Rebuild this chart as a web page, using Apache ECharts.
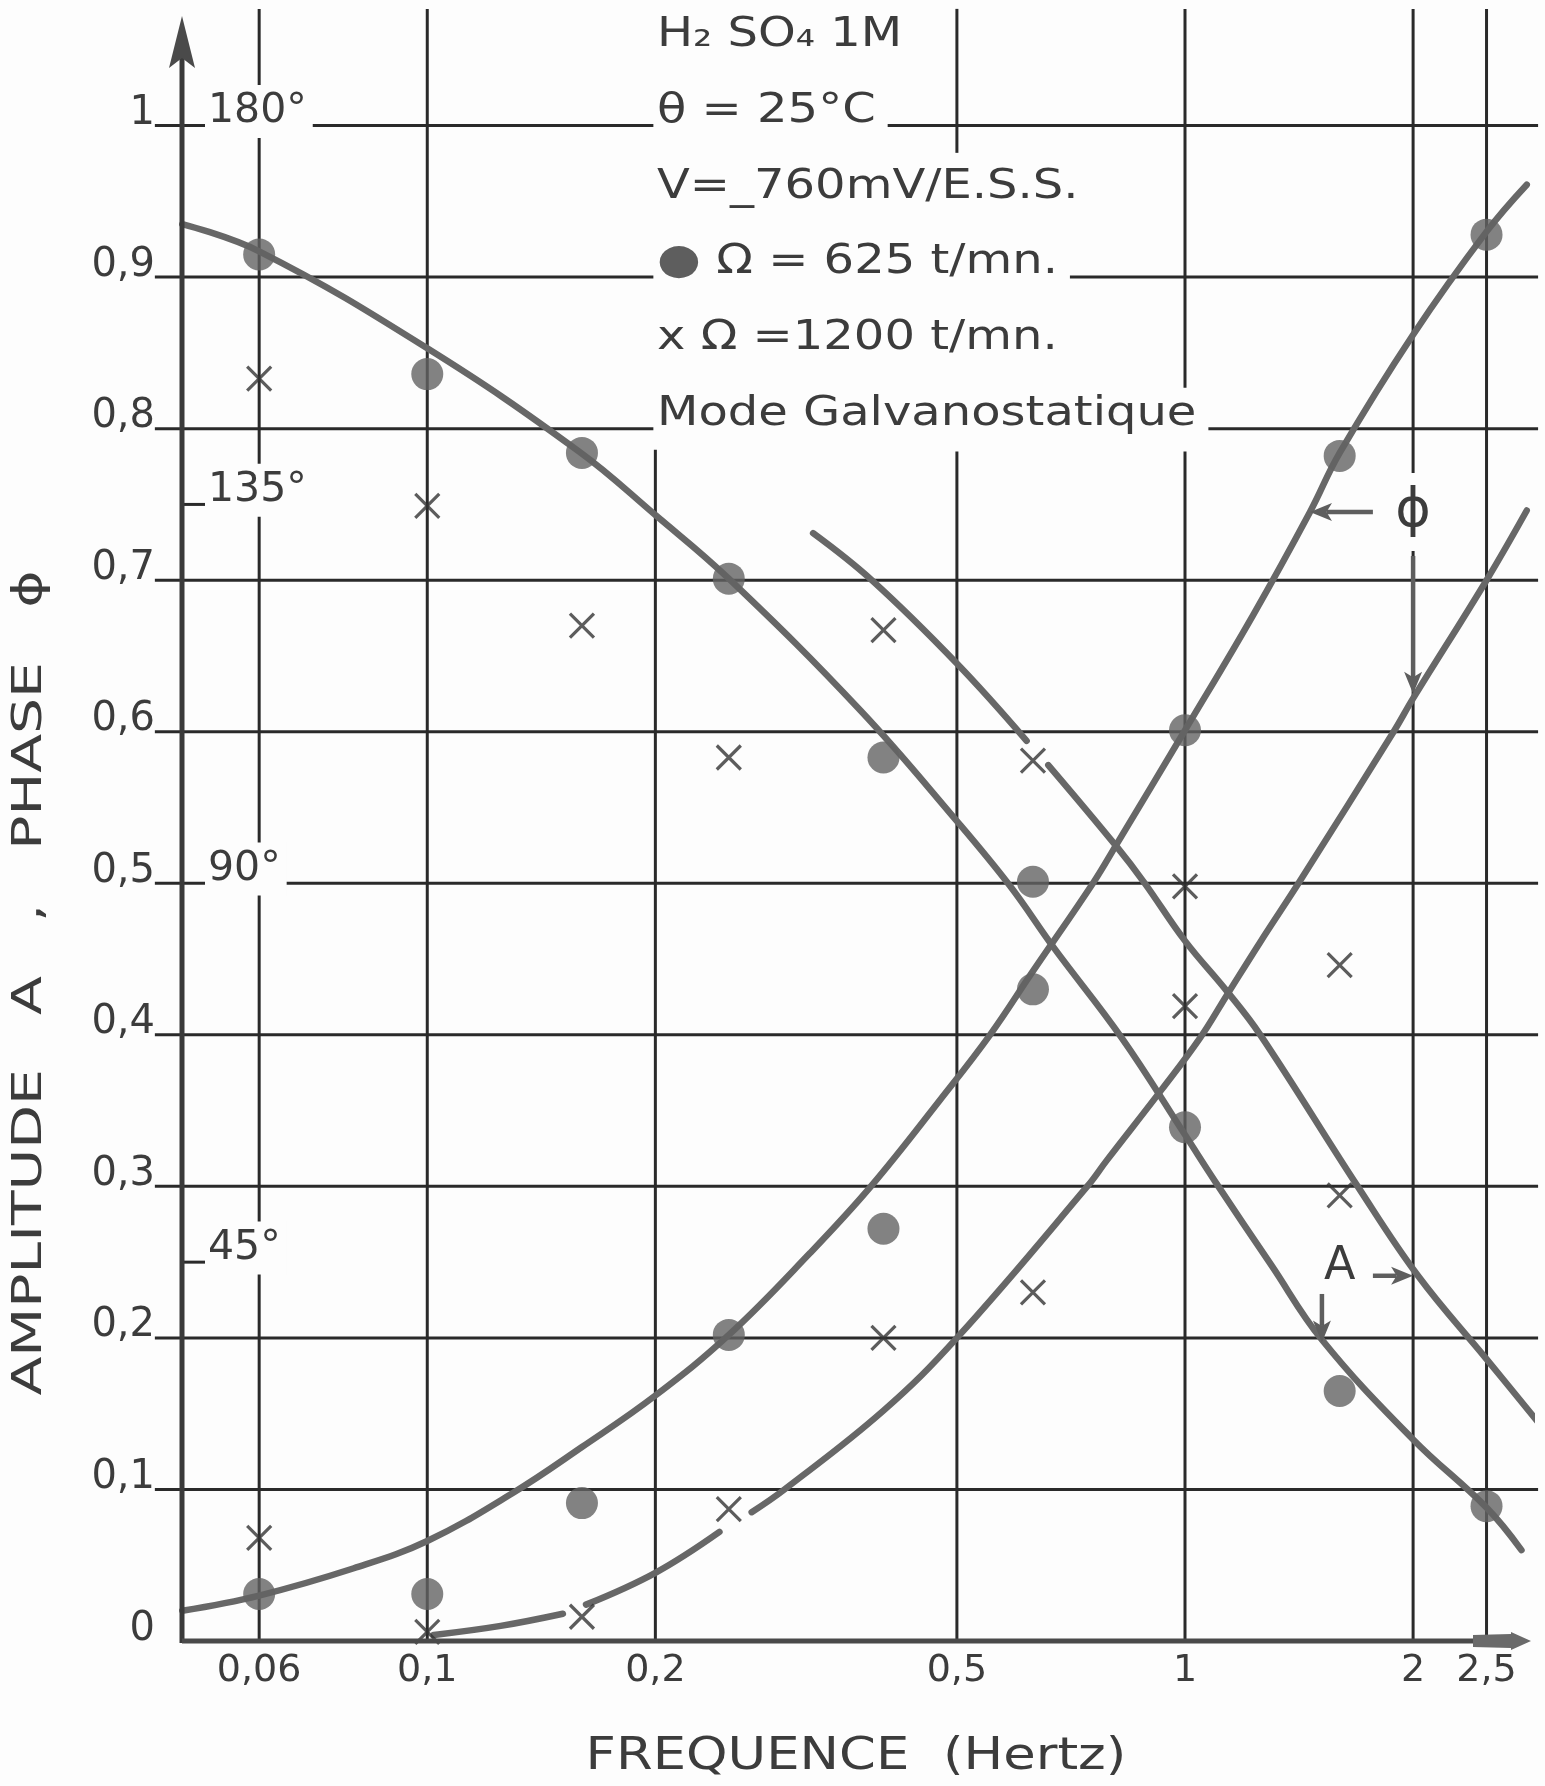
<!DOCTYPE html>
<html>
<head>
<meta charset="utf-8">
<script src="https://cdn.jsdelivr.net/npm/echarts@6/dist/echarts.min.js"></script>
<style>
html,body{margin:0;padding:0;background:#fdfdfd;}
#chart{width:1545px;height:1786px;}
</style>
</head>
<body>
<div id="chart"></div>
<script>
// ================= DATA =================
const freqs = [0.06, 0.1, 0.16, 0.25, 0.4, 0.63, 1, 1.6, 2.5];
// Omega = 625 t/mn (dots)
const amp625   = [0.915, 0.836, 0.784, 0.701, 0.583, 0.501, 0.339, 0.165, 0.089];
const phase625 = [0.031, 0.031, 0.091, 0.202, 0.272, 0.430, 0.601, 0.782, 0.928];
// Omega = 1200 t/mn (crosses) [frequency, value]
const amp1200   = [[0.06,0.833],[0.1,0.749],[0.16,0.670],[0.25,0.583],[0.4,0.667],[0.63,0.581],[1,0.498],[1.6,0.294]];
const phase1200 = [[0.06,0.068],[0.1,0.006],[0.16,0.016],[0.25,0.087],[0.4,0.200],[0.63,0.230],[1,0.419],[1.6,0.446]];

// hand-drawn fitted curves [frequency, value]
const curveAmp625 = [[0.0475,0.935],[0.06,0.917],[0.1,0.853],[0.1585,0.785],[0.2,0.743],[0.25,0.701],[0.373,0.614],[0.5,0.541],[0.588,0.498],[0.67,0.458],[0.825,0.398],[1,0.334],[1.1,0.302],[1.3,0.248],[1.515,0.199],[2,0.133],[2.5,0.088],[2.78,0.06]];
const curvePhase625 = [[0.0475,0.020],[0.06,0.030],[0.08,0.048],[0.1,0.066],[0.13,0.098],[0.16,0.128],[0.2,0.162],[0.25,0.202],[0.32,0.256],[0.385,0.300],[0.475,0.357],[0.553,0.400],[0.63,0.442],[0.756,0.500],[0.813,0.526],[1,0.601],[1.23,0.677],[1.462,0.745],[1.6,0.784],[2,0.862],[2.5,0.930],[2.825,0.961]];
const curveAmp1200a = [[0.323,0.731],[0.386,0.700],[0.5,0.645],[0.618,0.594]];
const curveAmp1200b = [[0.66,0.578],[0.813,0.524],[0.885,0.500],[1,0.462],[1.135,0.429],[1.257,0.400],[1.69,0.300],[2.03,0.241],[2.5,0.186],[2.94,0.143]];
const curvePhase1200a = [[0.102,0.004],[0.125,0.010],[0.151,0.018]];
const curvePhase1200b = [[0.162,0.024],[0.2,0.045],[0.243,0.072]];
const curvePhase1200c = [[0.268,0.085],[0.296,0.100],[0.4,0.152],[0.5,0.200],[0.743,0.300],[0.788,0.317],[0.932,0.364],[1.047,0.398],[1.135,0.426],[1.256,0.461],[1.42,0.502],[1.885,0.600],[2,0.622],[2.5,0.700],[2.825,0.746]];

// axes / ticks
const xTickValues = [0.06, 0.1, 0.2, 0.5, 1, 2, 2.5];
const xTickLabels = ['0,06', '0,1', '0,2', '0,5', '1', '2', '2,5'];
const yTickValues = [0, 0.1, 0.2, 0.3, 0.4, 0.5, 0.6, 0.7, 0.8, 0.9, 1];
const yTickLabels = ['0', '0,1', '0,2', '0,3', '0,4', '0,5', '0,6', '0,7', '0,8', '0,9', '1'];
const phaseTickValues = [1, 0.75, 0.5, 0.25];
const phaseTickLabels = ['180°', '135°', '90°', '45°'];

// texts
const legendLines = ['H₂ SO₄ 1M', 'θ = 25°C', 'V=_760mV/E.S.S.', '● Ω = 625 t/mn.', 'x Ω =1200 t/mn.', 'Mode Galvanostatique'];
const xTitle = 'FREQUENCE  (Hertz)';
const yTitle = 'AMPLITUDE   A   ,   PHASE   ϕ';
const phiLabel = 'ϕ';
const ampLabel = 'A';

// ================= CHART =================
const X_MIN = 0.047458, X_MAX = 2.8617, Y_MAX = 1.0723;
const FONT = "'DejaVu Sans', 'Noto Sans', sans-serif";
const INK = '#2a2a2a', TEXT = '#3c3c3c', CURVE = '#676767', BG = '#fdfdfd', ARROW = '#5e5e5e';

const chart = echarts.init(document.getElementById('chart'), null, {renderer: 'canvas'});

// gridline segments in data units
const vGrid = [[0.06,0,1.077],[0.1,0,1.077],[0.2,0,0.786],[0.5,0,0.785],[0.5,0.982,1.077],[1,0,0.785],[1,0.825,1.077],[2,0,1.077],[2.5,0,1.077]];
const hGrid = yTickValues.filter(v => v > 0).map(v => [0.043702, v, 2.924])
  .concat([[X_MIN, 0.75, 0.0513], [X_MIN, 0.25, 0.0513]]);
const legendVals = [1.05, 1.0, 0.95, 0.9, 0.85, 0.8];
const arrows = [[1.77,0.241,2.0,0.241],[1.516,0.229,1.516,0.197],[1.77,0.745,1.462,0.745],[2,0.716,2,0.625]];

function lineSeries(data) {
  return {
    type: 'line', data: data, smooth: 0.4, showSymbol: false, symbol: 'none',
    clip: false, z: 3, silent: true,
    lineStyle: {color: CURVE, width: 6.5, cap: 'round', join: 'round'}
  };
}
const CROSS = 'path://M0,0L10,10M10,0L0,10';

const option = {
  backgroundColor: BG,
  animation: false,
  grid: {left: 182, right: 14, top: 16, bottom: 145, containLabel: false},
  xAxis: {type: 'log', logBase: 10, min: X_MIN, max: X_MAX,
    axisLine: {show: false}, axisTick: {show: false}, axisLabel: {show: false},
    splitLine: {show: false}, minorTick: {show: false}, minorSplitLine: {show: false}},
  yAxis: {type: 'value', min: 0, max: Y_MAX,
    axisLine: {show: false}, axisTick: {show: false}, axisLabel: {show: false}, splitLine: {show: false}},
  series: [
    // vertical gridlines
    {type: 'custom', z: 1, silent: true, data: vGrid,
      renderItem: (p, api) => {
        const a = api.coord([api.value(0), api.value(1)]);
        const b = api.coord([api.value(0), api.value(2)]);
        return {type: 'line', shape: {x1: a[0], y1: a[1], x2: b[0], y2: b[1]}, style: {stroke: INK, lineWidth: 3}};
      }},
    // horizontal gridlines
    {type: 'custom', z: 1, silent: true, data: hGrid,
      renderItem: (p, api) => {
        const a = api.coord([api.value(0), api.value(1)]);
        const b = api.coord([api.value(2), api.value(1)]);
        return {type: 'line', shape: {x1: a[0], y1: a[1], x2: b[0], y2: b[1]}, style: {stroke: INK, lineWidth: 3}};
      }},
    // phase labels (white boxes over gridlines)
    {type: 'custom', z: 2, silent: true, data: phaseTickValues.map((v, i) => [X_MIN, v, i]),
      renderItem: (p, api) => {
        const c = api.coord([api.value(0), api.value(1)]);
        const fs = 41;
        return {type: 'text', x: c[0] + 23, y: c[1] - 0.346 * fs,
          style: {text: phaseTickLabels[api.value(2)], fontSize: fs, fontFamily: FONT, fill: TEXT,
            align: 'left', verticalAlign: 'middle', backgroundColor: BG, padding: [4, 6, 8, 3]}};
      }},
    // legend block
    {type: 'custom', z: 2, silent: true, data: legendVals.map((v, i) => [0.2, v, i]),
      renderItem: (p, api) => {
        const c = api.coord([api.value(0), api.value(1)]);
        const fs = 40;
        let txt = legendLines[api.value(2)];
        const style = {fontSize: fs, fontFamily: FONT, fill: TEXT, align: 'left', verticalAlign: 'middle',
          backgroundColor: BG, padding: [6, 10, 8, 3]};
        if (txt.charAt(0) === '●') {
          style.rich = {d: {fontSize: 42, fontFamily: FONT, fill: '#5e5e5e'}, t: {fontSize: fs, fontFamily: FONT, fill: TEXT}};
          txt = '{d|●}{t|' + txt.slice(1) + '}';
        }
        style.text = txt;
        return {type: 'text', x: c[0] - 2, y: c[1] - 0.346 * fs, scaleX: 1.2, originX: 0, style: style};
      }},
    // phi label (white box)
    {type: 'custom', z: 2, silent: true, data: [[2, 0.745, 0]],
      renderItem: (p, api) => {
        const c = api.coord([api.value(0), api.value(1)]);
        return {type: 'text', x: c[0], y: c[1],
          style: {text: phiLabel, fontSize: 54, fontFamily: FONT, fill: TEXT, align: 'center', verticalAlign: 'middle',
            backgroundColor: BG, padding: [12, 2, 12, 2]}};
      }},
    // A label
    {type: 'custom', z: 5, silent: true, data: [[1.6, 0.247, 0]],
      renderItem: (p, api) => {
        const c = api.coord([api.value(0), api.value(1)]);
        return {type: 'text', x: c[0], y: c[1],
          style: {text: ampLabel, fontSize: 46, fontFamily: FONT, fill: TEXT, align: 'center', verticalAlign: 'middle'}};
      }},
    // curves
    lineSeries(curveAmp625),
    lineSeries(curvePhase625),
    lineSeries(curveAmp1200a),
    lineSeries(curveAmp1200b),
    lineSeries(curvePhase1200a),
    lineSeries(curvePhase1200b),
    lineSeries(curvePhase1200c),
    // points 625
    {type: 'scatter', z: 4, silent: true, clip: false, symbol: 'circle', symbolSize: 32,
      itemStyle: {color: '#636363'}, data: freqs.map((f, i) => [f, amp625[i]])},
    {type: 'scatter', z: 4, silent: true, clip: false, symbol: 'circle', symbolSize: 32,
      itemStyle: {color: '#636363'}, data: freqs.map((f, i) => [f, phase625[i]])},
    // points 1200
    {type: 'scatter', z: 4, silent: true, clip: false, symbol: CROSS, symbolSize: 24,
      itemStyle: {color: 'none', borderColor: '#333333', borderWidth: 3.2}, data: amp1200},
    {type: 'scatter', z: 4, silent: true, clip: false, symbol: CROSS, symbolSize: 24,
      itemStyle: {color: 'none', borderColor: '#333333', borderWidth: 3.2}, data: phase1200},
    // arrows
    {type: 'custom', z: 5, silent: true, data: arrows,
      renderItem: (p, api) => {
        const a = api.coord([api.value(0), api.value(1)]);
        const b = api.coord([api.value(2), api.value(3)]);
        const dx = b[0] - a[0], dy = b[1] - a[1], L = Math.hypot(dx, dy), ux = dx / L, uy = dy / L;
        const hl = 22, hw = 9;
        const bx = b[0] - ux * hl, by = b[1] - uy * hl;
        const nx = b[0] - ux * hl * 0.75, ny = b[1] - uy * hl * 0.75;
        return {type: 'group', children: [
          {type: 'line', shape: {x1: a[0], y1: a[1], x2: nx, y2: ny}, style: {stroke: ARROW, lineWidth: 4.5}},
          {type: 'polygon', shape: {points: [[b[0], b[1]], [bx - uy * hw, by + ux * hw], [nx, ny], [bx + uy * hw, by - ux * hw]]},
            style: {fill: ARROW}}
        ]};
      }},
    // axes with arrows
    {type: 'custom', z: 5, silent: true, data: [[X_MIN, 0]],
      renderItem: (p, api) => {
        const o = api.coord([X_MIN, 0]);
        const t = api.coord([X_MIN, Y_MAX]);
        const r = api.coord([X_MAX, 0]);
        return {type: 'group', children: [
          {type: 'line', shape: {x1: o[0], y1: o[1] + 2, x2: o[0], y2: t[1] + 40}, style: {stroke: '#3a3a3a', lineWidth: 5}},
          {type: 'polygon', shape: {points: [[o[0], t[1]], [o[0] - 13, t[1] + 52], [o[0], t[1] + 42], [o[0] + 13, t[1] + 52]]}, style: {fill: '#4a4a4a'}},
          {type: 'line', shape: {x1: o[0], y1: o[1], x2: r[0] - 50, y2: o[1]}, style: {stroke: '#4a4a4a', lineWidth: 5}},
          {type: 'polygon', shape: {points: [[r[0] - 58, o[1] - 6], [r[0] - 20, o[1] - 7], [r[0] - 20, o[1] - 9], [r[0], o[1]],
            [r[0] - 20, o[1] + 9], [r[0] - 20, o[1] + 7], [r[0] - 58, o[1] + 6]]}, style: {fill: '#6a6a6a'}}
        ]};
      }},
    // y tick labels
    {type: 'custom', z: 5, silent: true, data: yTickValues.map((v, i) => [X_MIN, v, i]),
      renderItem: (p, api) => {
        const c = api.coord([api.value(0), api.value(1)]);
        const fs = 40;
        return {type: 'text', x: c[0] - 27, y: c[1] - 0.346 * fs + 2,
          style: {text: yTickLabels[api.value(2)], fontSize: fs, fontFamily: FONT, fill: TEXT, align: 'right', verticalAlign: 'middle'}};
      }},
    // x tick labels
    {type: 'custom', z: 5, silent: true, data: xTickValues.map((v, i) => [v, 0, i]),
      renderItem: (p, api) => {
        const c = api.coord([api.value(0), api.value(1)]);
        const fs = 38;
        return {type: 'text', x: c[0], y: c[1] + 43 - 0.346 * fs,
          style: {text: xTickLabels[api.value(2)], fontSize: fs, fontFamily: FONT, fill: TEXT, align: 'center', verticalAlign: 'middle'}};
      }}
  ],
  graphic: [
    {type: 'text', x: 856, y: 1773 - 0.346 * 44, scaleX: 1.2, silent: true,
      style: {text: xTitle, fontSize: 44, fontFamily: FONT, fill: TEXT, align: 'center', verticalAlign: 'middle'}},
    {type: 'text', x: 31, y: 983, rotation: Math.PI / 2, scaleX: 1.42, silent: true,
      style: {text: yTitle, fontSize: 40, fontFamily: FONT, fill: TEXT, align: 'center', verticalAlign: 'middle'}}
  ]
};
chart.setOption(option);
</script>
</body>
</html>
